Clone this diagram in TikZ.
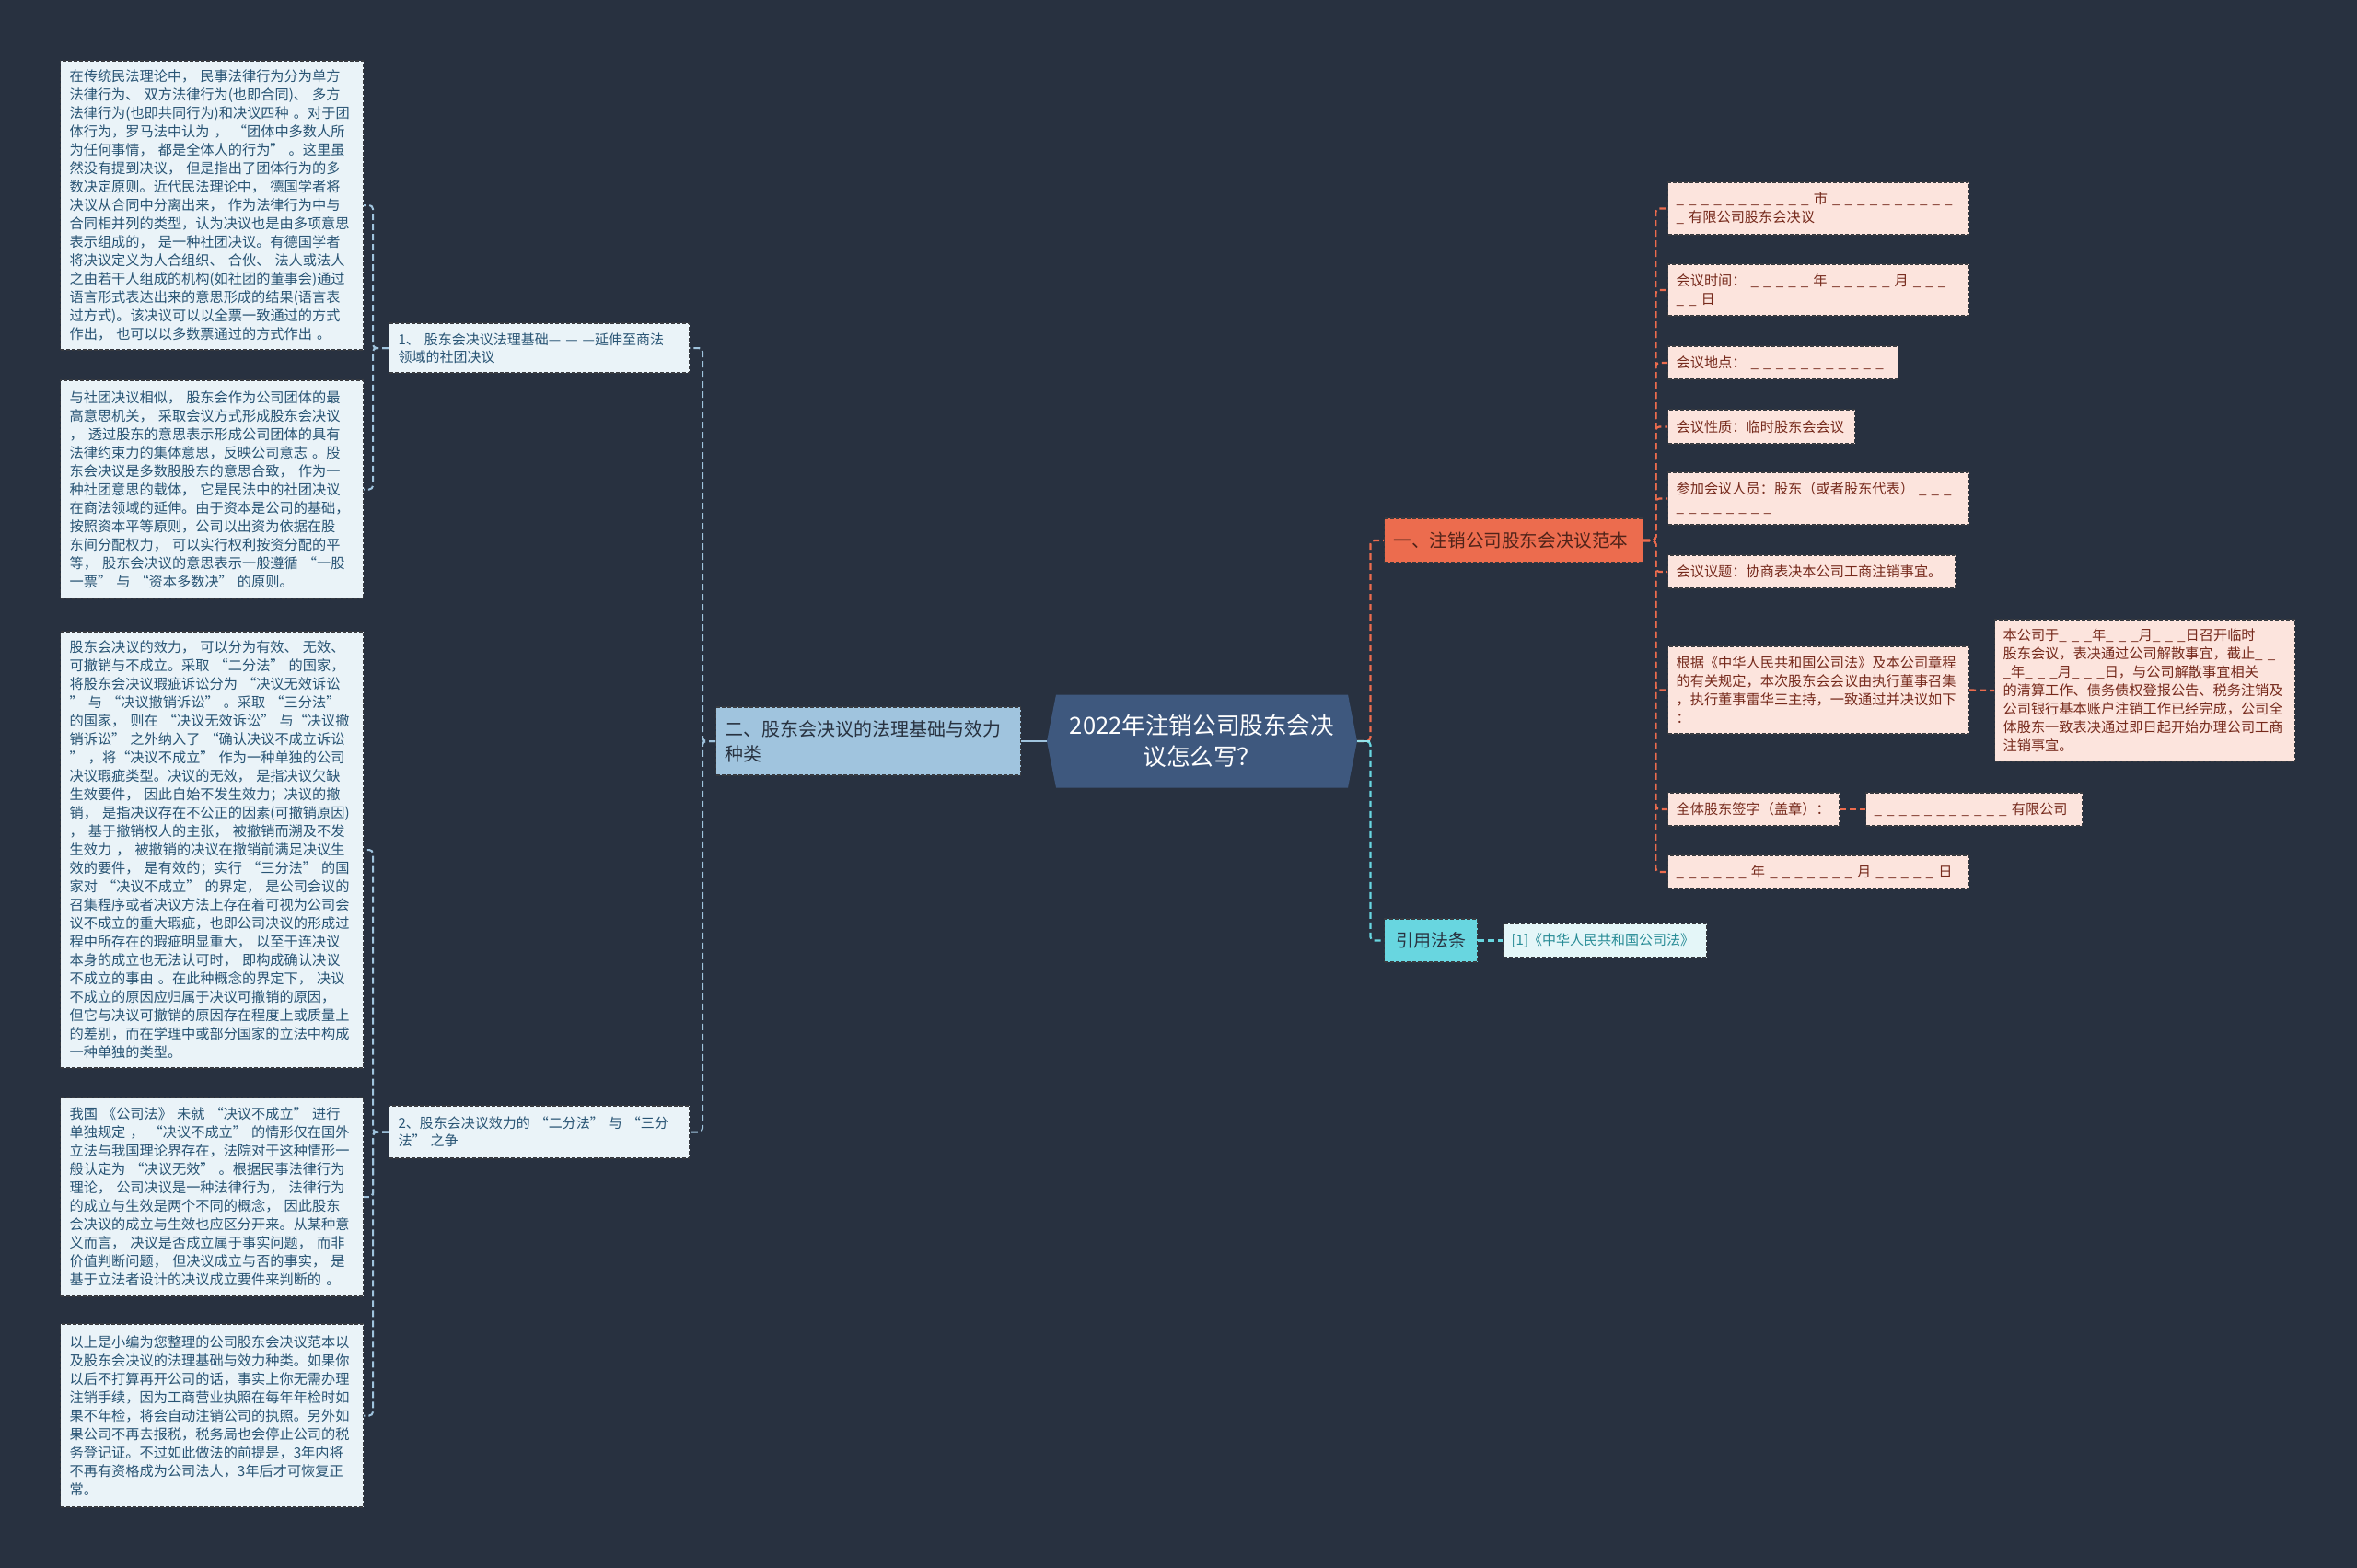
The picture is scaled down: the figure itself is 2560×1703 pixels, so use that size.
\documentclass[tikz,border=0pt]{standalone}
\usepackage{fontspec}
\setmainfont{Noto Sans CJK SC}
\usetikzlibrary{calc}
\definecolor{bgc}{RGB}{40,49,64}
\definecolor{leaffill}{RGB}{234,243,248}
\definecolor{leaftext}{RGB}{40,84,116}
\definecolor{pinkfill}{RGB}{252,228,221}
\definecolor{pinktext}{RGB}{118,42,28}
\definecolor{orangec}{RGB}{236,108,78}
\definecolor{cyanc}{RGB}{104,214,224}
\definecolor{reffill}{RGB}{228,246,248}
\definecolor{reftext}{RGB}{40,140,150}
\definecolor{bluefill}{RGB}{160,196,222}
\definecolor{centerc}{RGB}{62,88,126}
\definecolor{boxline}{RGB}{55,58,64}
\definecolor{darktext}{RGB}{40,50,64}
\definecolor{orangetext}{RGB}{80,35,25}
\begin{document}
\begin{tikzpicture}[x=0.5pt,y=-0.5pt,
  boxbase/.style={draw=boxline, dash pattern=on 2pt off 1pt, line width=0.6pt, align=left, inner xsep=5pt, inner ysep=0pt, anchor=west},
  lbox/.style={boxbase, fill=leaffill, text=leaftext, font=\fontsize{7.6pt}{10pt}\selectfont},
  lsub/.style={boxbase, fill=leaffill, text=leaftext, font=\fontsize{7.5pt}{9.5pt}\selectfont},
  lmain/.style={boxbase, fill=bluefill, text=darktext, font=\fontsize{10pt}{13.5pt}\selectfont},
  rmain/.style={boxbase, fill=orangec, text=orangetext, font=\fontsize{9.8pt}{12pt}\selectfont},
  rbox/.style={boxbase, inner xsep=4.5pt, fill=pinkfill, text=pinktext, font=\fontsize{7.6pt}{10pt}\selectfont},
  refmain/.style={boxbase, inner xsep=0pt, align=center, fill=cyanc, text=darktext, font=\fontsize{9.5pt}{12pt}\selectfont},
  refleaf/.style={boxbase, inner xsep=4.5pt, fill=reffill, text=reftext, font=\fontsize{7.5pt}{10pt}\selectfont},
  ctext/.style={inner sep=0pt, align=center, text=white, font=\fontsize{12.8pt}{17pt}\selectfont},
  lconn/.style={draw=bluefill, line width=1pt, dash pattern=on 3.5pt off 2pt, rounded corners=2pt},
  oconn/.style={draw=orangec, line width=1.1pt, dash pattern=on 3.5pt off 2pt, rounded corners=2pt},
  tconn/.style={draw=cyanc, line width=1.1pt, dash pattern=on 3.5pt off 2pt, rounded corners=2pt},
  solidstub/.style={draw=bluefill, line width=1.2pt},
  cstub/.style={draw=cyanc!70!white, line width=1.2pt}
]
\fill[bgc] (0,0) rectangle (2560,1703);
\useasboundingbox (0,0) rectangle (2560,1703);

% ---------- center ----------
\coordinate (cc) at (1305.5,805);
\fill[centerc] ($(cc)+(-168.5,0)$) -- ($(cc)+(-158.5,-50.5)$) -- ($(cc)+(158.5,-50.5)$) -- ($(cc)+(168.5,0)$) -- ($(cc)+(158.5,50.5)$) -- ($(cc)+(-158.5,50.5)$) -- cycle;
\node[ctext, minimum width=168.5pt, minimum height=50.5pt] (c) at (cc) {2022年注销公司股东会决\\议怎么写？};

% ---------- left branch ----------
\node[lmain, text width=155.5pt, minimum height=37pt] (two) at (777,805) {二、股东会决议的法理基础与效力\\种类};

\node[lsub, text width=153pt, minimum height=27pt] (l1) at (422,378) {1、 股东会决议法理基础— — —延伸至商法\\领域的社团决议};
\node[lsub, text width=153pt, minimum height=28.5pt] (l2) at (422,1229.5) {2、股东会决议效力的 “二分法” 与 “三分\\法” 之争};

\node[lbox, text width=154.5pt, minimum height=157pt] (b1) at (65,223) {在传统民法理论中， 民事法律行为分为单方\\法律行为、 双方法律行为(也即合同)、 多方\\法律行为(也即共同行为)和决议四种 。对于团\\体行为，罗马法中认为 ， “团体中多数人所\\为任何事情， 都是全体人的行为” 。这里虽\\然没有提到决议， 但是指出了团体行为的多\\数决定原则。近代民法理论中， 德国学者将\\决议从合同中分离出来， 作为法律行为中与\\合同相并列的类型，认为决议也是由多项意思\\表示组成的， 是一种社团决议。有德国学者\\将决议定义为人合组织、 合伙、 法人或法人\\之由若干人组成的机构(如社团的董事会)通过\\语言形式表达出来的意思形成的结果(语言表\\过方式)。该决议可以以全票一致通过的方式\\作出， 也可以以多数票通过的方式作出 。};

\node[lbox, text width=154.5pt, minimum height=118.5pt] (b2) at (65,531.5) {与社团决议相似， 股东会作为公司团体的最\\高意思机关， 采取会议方式形成股东会决议\\， 透过股东的意思表示形成公司团体的具有\\法律约束力的集体意思，反映公司意志 。股\\东会决议是多数股股东的意思合致， 作为一\\种社团意思的载体， 它是民法中的社团决议\\在商法领域的延伸。由于资本是公司的基础，\\ 按照资本平等原则，公司以出资为依据在股\\东间分配权力， 可以实行权利按资分配的平\\等， 股东会决议的意思表示一般遵循 “一股\\一票” 与 “资本多数决” 的原则。};

\node[lbox, text width=154.5pt, minimum height=237pt] (b3) at (65,923) {股东会决议的效力， 可以分为有效、 无效、\\可撤销与不成立。采取 “二分法” 的国家，\\将股东会决议瑕疵诉讼分为 “决议无效诉讼\\” 与 “决议撤销诉讼” 。采取 “三分法”\\的国家， 则在 “决议无效诉讼” 与“决议撤\\销诉讼” 之外纳入了 “确认决议不成立诉讼\\” ，将“决议不成立” 作为一种单独的公司\\决议瑕疵类型。决议的无效， 是指决议欠缺\\生效要件， 因此自始不发生效力；决议的撤\\销， 是指决议存在不公正的因素(可撤销原因)\\， 基于撤销权人的主张， 被撤销而溯及不发\\生效力 ， 被撤销的决议在撤销前满足决议生\\效的要件， 是有效的；实行 “三分法” 的国\\家对 “决议不成立” 的界定， 是公司会议的\\召集程序或者决议方法上存在着可视为公司会\\议不成立的重大瑕疵，也即公司决议的形成过\\程中所存在的瑕疵明显重大， 以至于连决议\\本身的成立也无法认可时， 即构成确认决议\\不成立的事由 。在此种概念的界定下， 决议\\不成立的原因应归属于决议可撤销的原因，\\但它与决议可撤销的原因存在程度上或质量上\\的差别，而在学理中或部分国家的立法中构成\\一种单独的类型。};

\node[lbox, text width=154.5pt, minimum height=108pt] (b4) at (65,1300) {我国 《公司法》 未就 “决议不成立” 进行\\单独规定 ， “决议不成立” 的情形仅在国外\\立法与我国理论界存在，法院对于这种情形一\\般认定为 “决议无效” 。根据民事法律行为\\理论， 公司决议是一种法律行为， 法律行为\\的成立与生效是两个不同的概念， 因此股东\\会决议的成立与生效也应区分开来。从某种意\\义而言， 决议是否成立属于事实问题， 而非\\价值判断问题， 但决议成立与否的事实， 是\\基于立法者设计的决议成立要件来判断的 。};

\node[lbox, text width=154.5pt, minimum height=99.5pt] (b5) at (65,1537.5) {以上是小编为您整理的公司股东会决议范本以\\及股东会决议的法理基础与效力种类。如果你\\以后不打算再开公司的话，事实上你无需办理\\注销手续，因为工商营业执照在每年年检时如\\果不年检，将会自动注销公司的执照。另外如\\果公司不再去报税，税务局也会停止公司的税\\务登记证。不过如此做法的前提是，3年内将\\不再有资格成为公司法人，3年后才可恢复正\\常。};

% ---------- right branch ----------
\node[rmain, text width=130.5pt, minimum height=24pt] (one) at (1503,587) {一、注销公司股东会决议范本};

\node[rbox, text width=154.5pt, minimum height=28.5pt] (c1) at (1811,226.5) {\_ \_ \_ \_ \_ \_ \_ \_ \_ \_ \_ 市 \_ \_ \_ \_ \_ \_ \_ \_ \_ \_\\\_ 有限公司股东会决议};
\node[rbox, text width=154.5pt, minimum height=28pt] (c2) at (1811,315) {会议时间： \_ \_ \_ \_ \_ 年 \_ \_ \_ \_ \_ 月 \_ \_ \_\\\_ \_ 日};
\node[rbox, text width=116pt, minimum height=18pt] (c3) at (1811,394) {会议地点： \_ \_ \_ \_ \_ \_ \_ \_ \_ \_ \_};
\node[rbox, text width=92.5pt, minimum height=18.5pt] (c4) at (1811,463.5) {会议性质：临时股东会会议};
\node[rbox, text width=154.5pt, minimum height=28.5pt] (c5) at (1811,541.5) {参加会议人员：股东（或者股东代表） \_ \_ \_\\\_ \_ \_ \_ \_ \_ \_ \_};
\node[rbox, text width=147pt, minimum height=18pt] (c6) at (1811,621) {会议议题：协商表决本公司工商注销事宜。};
\node[rbox, text width=154.5pt, minimum height=47.5pt] (c7) at (1811,749.5) {根据《中华人民共和国公司法》及本公司章程\\的有关规定，本次股东会会议由执行董事召集\\，执行董事雷华三主持，一致通过并决议如下\\：};
\node[rbox, text width=154pt, minimum height=77pt] (c7c) at (2166,750) {本公司于\_ \_ \_年\_ \_ \_月\_ \_ \_日召开临时\\股东会议，表决通过公司解散事宜，截止\_ \_\\\_年\_ \_ \_月\_ \_ \_日，与公司解散事宜相关\\的清算工作、债务债权登报公告、税务注销及\\公司银行基本账户注销工作已经完成，公司全\\体股东一致表决通过即日起开始办理公司工商\\注销事宜。};
\node[rbox, text width=84pt, minimum height=18pt] (c8) at (1811,879) {全体股东签字（盖章）：};
\node[rbox, text width=108.5pt, minimum height=18pt] (c8c) at (2026,879) {\_ \_ \_ \_ \_ \_ \_ \_ \_ \_ \_ 有限公司};
\node[rbox, text width=154.5pt, minimum height=18pt] (c9) at (1811,947) {\_ \_ \_ \_ \_ \_ 年 \_ \_ \_ \_ \_ \_ \_ 月 \_ \_ \_ \_ \_ 日};

\node[refmain, minimum width=50.5pt, minimum height=23.5pt] (ref) at (1503,1021.5) {引用法条};
\node[refleaf, text width=101.5pt, minimum height=18.5pt] (refc) at (1632,1021.5) {[1]《中华人民共和国公司法》};

% ---------- connectors ----------
\draw[solidstub] (c.west) -- (two.east);
\draw[lconn] (two.west) -- ++(-14,0) |- (l1.east);
\draw[lconn] (two.west) -- ++(-14,0) |- (l2.east);
\foreach \k in {b1,b2} \draw[lconn] (l1.west) -- ++(-17,0) |- (\k.east);
\foreach \k in {b3,b4,b5} \draw[lconn] (l2.west) -- ++(-17,0) |- (\k.east);

\draw[oconn] (c.east) -- ++(14,0) |- (one.west);
\draw[tconn] (c.east) -- ++(14,0) |- (ref.west);
\draw[cstub] (c.east) -- ++(14,0);
\foreach \k in {c1,c2,c3,c4,c5,c6,c7,c8,c9} \draw[oconn] (one.east) -- ++(13,0) |- (\k.west);
\draw[oconn] (c7.east) -- (c7c.west);
\draw[oconn] (c8.east) -- (c8c.west);
\draw[tconn] (ref.east) -- (refc.west);
\end{tikzpicture}
\end{document}
